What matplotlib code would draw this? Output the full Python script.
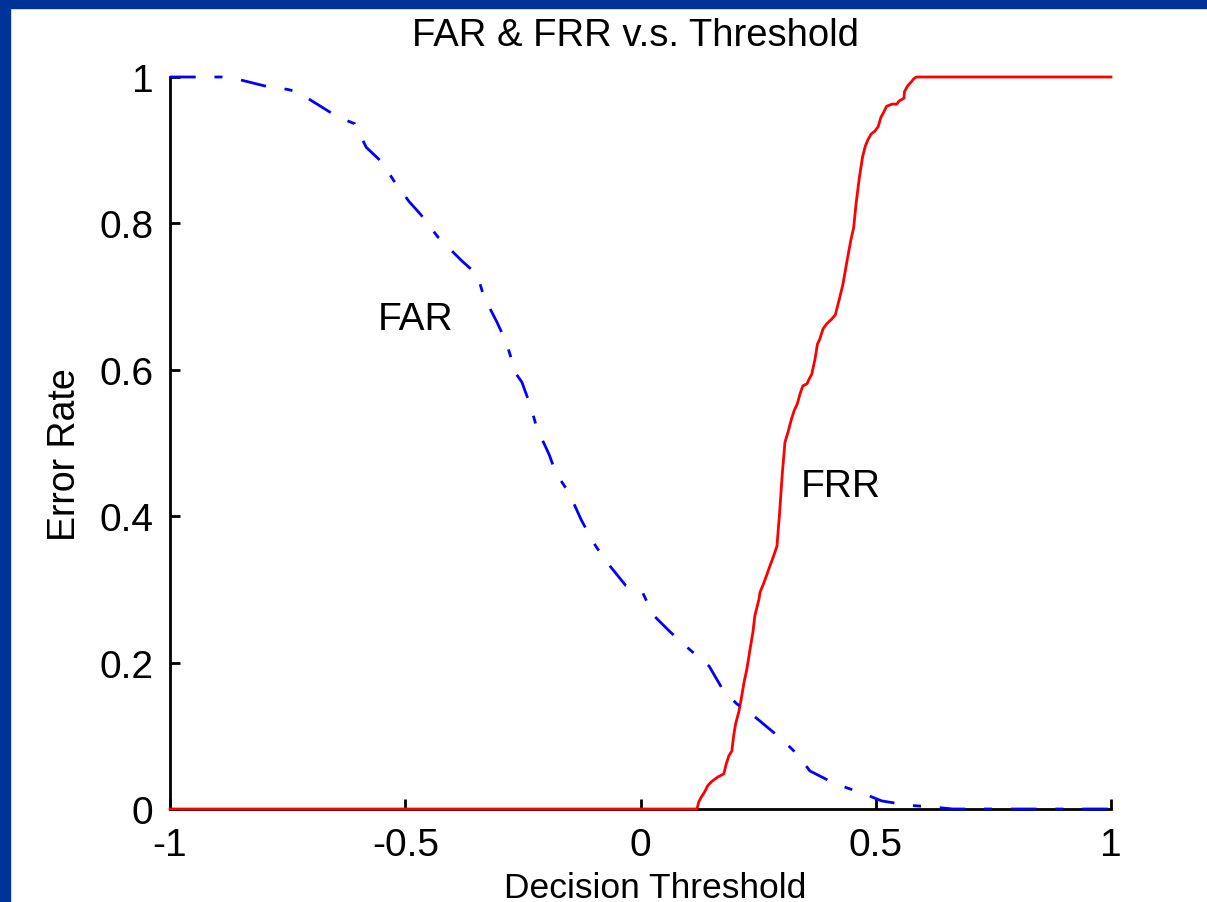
import matplotlib
matplotlib.use("Agg")
import matplotlib.pyplot as plt
from matplotlib.patches import Rectangle

# FAR curve (blue, dash-dot)
far_x = [-1.0, -0.95, -0.89, -0.85, -0.80, -0.75, -0.73, -0.685, -0.645, -0.607,
         -0.583, -0.55, -0.524, -0.492, -0.467, -0.43, -0.38, -0.347, -0.333, -0.305,
         -0.285, -0.265, -0.252, -0.234, -0.22, -0.194, -0.18, -0.152, -0.126, -0.10,
         -0.075, -0.031, 0.005, 0.027, 0.063, 0.097, 0.146, 0.175, 0.204, 0.241,
         0.299, 0.333, 0.36, 0.415, 0.466, 0.513, 0.571, 0.617, 0.664, 1.0]
far_y = [1.0, 1.0, 1.0, 0.996, 0.988, 0.983, 0.98, 0.962, 0.946, 0.936,
         0.904, 0.884, 0.858, 0.83, 0.812, 0.781, 0.749, 0.73, 0.70, 0.665,
         0.637, 0.595, 0.583, 0.551, 0.52, 0.484, 0.459, 0.432, 0.395, 0.364,
         0.34, 0.305, 0.295, 0.265, 0.242, 0.222, 0.195, 0.163, 0.144, 0.127,
         0.096, 0.075, 0.052, 0.034, 0.023, 0.011, 0.005, 0.003, 0.0, 0.0]

# FRR curve (red, solid)
frr_x = [-1.0, 0.12, 0.124, 0.129, 0.136, 0.143, 0.152, 0.165, 0.177, 0.182,
         0.188, 0.194, 0.198, 0.202, 0.209, 0.214, 0.220, 0.226, 0.233, 0.239,
         0.243, 0.252, 0.254, 0.261, 0.269, 0.275, 0.282, 0.290, 0.295, 0.301,
         0.307, 0.314, 0.321, 0.327, 0.333, 0.339, 0.345, 0.354, 0.358, 0.364,
         0.371, 0.376, 0.381, 0.388, 0.396, 0.406, 0.414, 0.422, 0.430, 0.439,
         0.447, 0.453, 0.458, 0.465, 0.472, 0.478, 0.484, 0.490, 0.498, 0.505,
         0.511, 0.517, 0.523, 0.535, 0.545, 0.549, 0.560, 0.561, 0.568, 0.575,
         0.580, 0.586, 1.0]
frr_y = [0.0, 0.0, 0.01, 0.016, 0.023, 0.032, 0.038, 0.044, 0.048, 0.061,
         0.073, 0.079, 0.10, 0.116, 0.133, 0.150, 0.173, 0.191, 0.219, 0.242,
         0.264, 0.287, 0.296, 0.307, 0.321, 0.332, 0.344, 0.359, 0.399, 0.455,
         0.501, 0.516, 0.533, 0.545, 0.553, 0.567, 0.578, 0.581, 0.587, 0.594,
         0.615, 0.635, 0.642, 0.656, 0.663, 0.669, 0.675, 0.695, 0.716, 0.749,
         0.777, 0.794, 0.826, 0.862, 0.891, 0.906, 0.915, 0.922, 0.926, 0.932,
         0.945, 0.952, 0.960, 0.963, 0.963, 0.967, 0.971, 0.980, 0.988, 0.993,
         0.997, 1.0, 1.0]

x_ticks = [-1, -0.5, 0, 0.5, 1]
x_tick_labels = ["-1", "-0.5", "0", "0.5", "1"]
y_ticks = [0, 0.2, 0.4, 0.6, 0.8, 1]
y_tick_labels = ["0", "0.2", "0.4", "0.6", "0.8", "1"]

plt.rcParams['font.family'] = ['Liberation Sans', 'DejaVu Sans']
plt.rcParams['lines.scale_dashes'] = False

W, H = 1207, 903
fig = plt.figure(figsize=(W / 100, H / 100), dpi=100)
fig.patch.set_facecolor('white')

# dark blue slide frame on top and left
border = '#003399'
fig.patches.append(Rectangle((0, 1 - 9 / H), 1, 9 / H, transform=fig.transFigure,
                             color=border, zorder=10))
fig.patches.append(Rectangle((0, 0), 10 / W, 1, transform=fig.transFigure,
                             color=border, zorder=10))

ax = fig.add_axes([170 / W, (H - 810) / H, (1111 - 170) / W, (810 - 78) / H])
ax.plot(frr_x, frr_y, color='#ff0000', lw=2.0, zorder=3, clip_on=False)
ax.plot(far_x, far_y, color='#0000ff', lw=2.0, zorder=4, clip_on=False,
        dashes=(18.5, 13.5, 5.8, 13.5))

ax.set_xlim(-1, 1)
ax.set_ylim(0, 1)
ax.set_xticks(x_ticks)
ax.set_xticklabels(x_tick_labels)
ax.set_yticks(y_ticks)
ax.set_yticklabels(y_tick_labels)
ax.spines['top'].set_visible(False)
ax.spines['right'].set_visible(False)
for s in ('left', 'bottom'):
    ax.spines[s].set_linewidth(2)
ax.tick_params(direction='in', length=7.2, width=2, labelsize=28)
ax.tick_params(axis='x', pad=13)
ax.tick_params(axis='y', pad=12)

ax.text(-0.558, 0.656, "FAR", fontsize=28, ha='left', va='baseline')
ax.text(0.341, 0.428, "FRR", fontsize=28, ha='left', va='baseline')

fig.text(636 / W, (H - 18) / H, "FAR & FRR v.s. Threshold", fontsize=27.5,
         ha='center', va='top')
fig.text(65 / W, (H - 455) / H, "Error Rate", fontsize=27, rotation=90,
         ha='center', va='center')
# the reference crops this label at the bottom edge; keep it just inside
fig.text(655 / W, (H - 872) / H, "Decision Threshold", fontsize=25.5,
         ha='center', va='top')

fig.savefig("out.png", dpi=100)
